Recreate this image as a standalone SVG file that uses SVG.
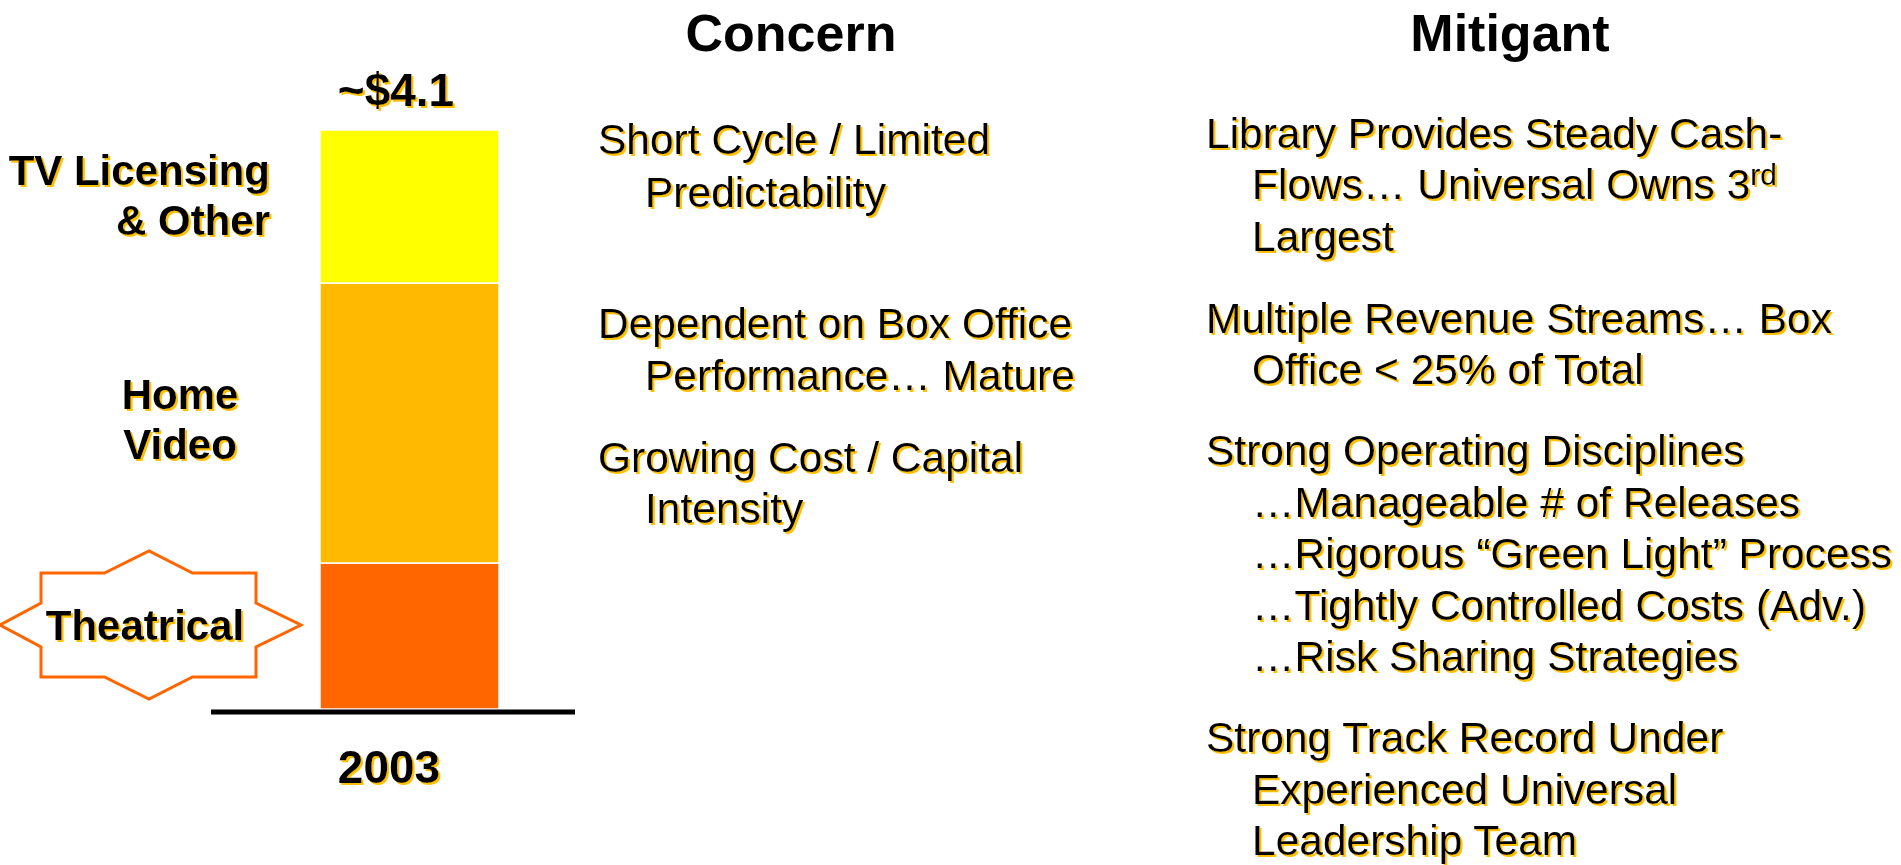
<svg xmlns="http://www.w3.org/2000/svg" width="1901" height="865" viewBox="0 0 1901 865">
  <defs>
    <filter id="sh" x="-10%" y="-20%" width="120%" height="150%">
      <feOffset in="SourceAlpha" dx="1.8" dy="1.8" result="o"/>
      <feFlood flood-color="#FFC000" result="c"/>
      <feComposite in="c" in2="o" operator="in" result="s"/>
      <feMerge>
        <feMergeNode in="s"/>
        <feMergeNode in="SourceGraphic"/>
      </feMerge>
    </filter>
  </defs>
  <style>
    text { font-family: "Liberation Sans", Arial, sans-serif; fill: #000000; }
    .title { font-size: 52px; font-weight: bold; text-anchor: middle; }
    .lbl { font-size: 42px; font-weight: bold; }
    .big { font-size: 46px; font-weight: bold; text-anchor: middle; }
    .body { font-size: 42.5px; }
    .shadow { filter: url(#sh); }
    .seg { stroke: #FFFFFF; stroke-width: 1.5; }
  </style>
  <rect width="1901" height="865" fill="#FFFFFF"/>

  <g id="chart">
    <g id="bar-theatrical"><rect class="seg" x="320" y="563" width="179" height="146" fill="#FF6600"/></g>
    <g id="bar-home-video"><rect class="seg" x="320" y="283" width="179" height="280" fill="#FFBA00"/></g>
    <g id="bar-tv"><rect class="seg" x="320" y="130" width="179" height="153" fill="#FFFF00"/></g>
    <g id="axis"><line x1="211" y1="712" x2="575" y2="712" stroke="#000000" stroke-width="5"/></g>
    <g id="total" class="shadow"><text class="big" x="396" y="106">~$4.1</text></g>
    <g id="year" class="shadow"><text class="big" x="389" y="783">2003</text></g>
  </g>

  <g id="label-tv" class="shadow">
    <text class="lbl" x="270" y="185" text-anchor="end">TV Licensing</text>
    <text class="lbl" x="270" y="235" text-anchor="end">&amp; Other</text>
  </g>
  <g id="label-home-video" class="shadow">
    <text class="lbl" x="180" y="409" text-anchor="middle">Home</text>
    <text class="lbl" x="180" y="459" text-anchor="middle">Video</text>
  </g>
  <g id="label-theatrical">
    <polygon points="41,573 104.5,573 149,551 192.5,573 256,573 256,603 301,625 256,647 256,677 192.5,677 149,699 104.5,677 41,677 41,647 0,625 41,603" fill="#FFFFFF" stroke="#FF6600" stroke-width="3"/>
    <g class="shadow"><text class="lbl" x="145" y="640" text-anchor="middle">Theatrical</text></g>
  </g>

  <g id="concern">
    <text class="title" x="791" y="51">Concern</text>
    <g id="concern-1" class="shadow">
      <text class="body" x="598" y="154">Short Cycle / Limited</text>
      <text class="body" x="645" y="207">Predictability</text>
    </g>
    <g id="concern-2" class="shadow">
      <text class="body" x="598" y="338">Dependent on Box Office</text>
      <text class="body" x="645" y="390">Performance… Mature</text>
    </g>
    <g id="concern-3" class="shadow">
      <text class="body" x="598" y="472">Growing Cost / Capital</text>
      <text class="body" x="645" y="523">Intensity</text>
    </g>
  </g>

  <g id="mitigant">
    <text class="title" x="1510" y="51">Mitigant</text>
    <g id="mitigant-1" class="shadow">
      <text class="body" x="1206" y="148">Library Provides Steady Cash-</text>
      <text class="body" x="1252" y="199">Flows… Universal Owns 3<tspan font-size="30" dy="-14">rd</tspan></text>
      <text class="body" x="1252" y="251">Largest</text>
    </g>
    <g id="mitigant-2" class="shadow">
      <text class="body" x="1206" y="333">Multiple Revenue Streams… Box</text>
      <text class="body" x="1252" y="384">Office &lt; 25% of Total</text>
    </g>
    <g id="mitigant-3" class="shadow">
      <text class="body" x="1206" y="465">Strong Operating Disciplines</text>
      <text class="body" x="1252" y="517">…Manageable # of Releases</text>
      <text class="body" x="1252" y="568">…Rigorous “Green Light” Process</text>
      <text class="body" x="1252" y="620">…Tightly Controlled Costs (Adv.)</text>
      <text class="body" x="1252" y="671">…Risk Sharing Strategies</text>
    </g>
    <g id="mitigant-4" class="shadow">
      <text class="body" x="1206" y="752">Strong Track Record Under</text>
      <text class="body" x="1252" y="804">Experienced Universal</text>
      <text class="body" x="1252" y="855">Leadership Team</text>
    </g>
  </g>
</svg>
